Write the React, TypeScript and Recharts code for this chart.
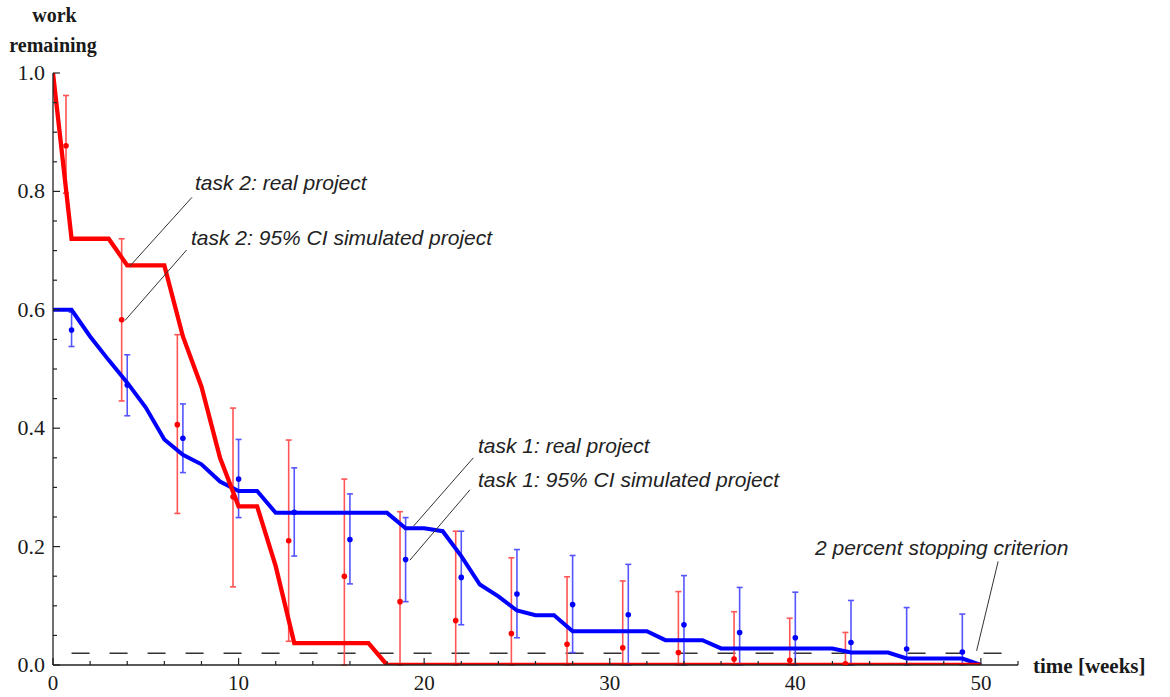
import React from "react";
import {
  ComposedChart,
  Line,
  Scatter,
  ErrorBar,
  XAxis,
  YAxis,
  ReferenceLine,
} from "recharts";

// task 2 (real project) burndown, breakpoints
const redWeeks = [0, 1, 3, 4, 6, 7, 8, 9, 10, 11, 12, 13, 17, 18, 50];
const redWork = [1.0, 0.72, 0.72, 0.675, 0.675, 0.555, 0.47, 0.35, 0.268, 0.268, 0.167, 0.037, 0.037, 0, 0];

// task 1 (real project)
const blueWeeks = [0, 1, 2, 3, 4, 5, 6, 7, 8, 9, 10, 11, 12, 18, 19, 20, 21, 22, 23, 24, 25, 26, 27, 28, 32, 33, 35, 36, 42, 43, 45, 46, 49, 50];
const blueWork = [0.6, 0.6, 0.555, 0.515, 0.477, 0.435, 0.381, 0.355, 0.339, 0.31, 0.294, 0.294, 0.257, 0.257, 0.231, 0.231, 0.226, 0.184, 0.136, 0.116, 0.092, 0.084, 0.084, 0.057, 0.057, 0.042, 0.042, 0.028, 0.028, 0.021, 0.021, 0.011, 0.011, 0];

// task 2 simulated, mean and 95% CI
const redSimWeeks = [0.7, 3.7, 6.7, 9.7, 12.7, 15.7, 18.7, 21.7, 24.7, 27.7, 30.7, 33.7, 36.7, 39.7, 42.7];
const redSimMean = [0.877, 0.583, 0.406, 0.284, 0.21, 0.15, 0.107, 0.075, 0.053, 0.035, 0.029, 0.021, 0.01, 0.008, 0.002];
const redSimLow = [0.797, 0.446, 0.256, 0.132, 0.04, 0, 0, 0, 0, 0, 0, 0, 0, 0, 0];
const redSimHigh = [0.962, 0.72, 0.558, 0.434, 0.38, 0.314, 0.259, 0.226, 0.181, 0.149, 0.142, 0.124, 0.09, 0.079, 0.055];

// task 1 simulated
const blueSimWeeks = [1, 4, 7, 10, 13, 16, 19, 22, 25, 28, 31, 34, 37, 40, 43, 46, 49];
const blueSimMean = [0.566, 0.473, 0.383, 0.314, 0.258, 0.212, 0.178, 0.148, 0.12, 0.102, 0.085, 0.068, 0.055, 0.046, 0.038, 0.027, 0.022];
const blueSimLow = [0.538, 0.421, 0.325, 0.249, 0.184, 0.137, 0.107, 0.068, 0.046, 0.021, 0, 0, 0, 0, 0, 0, 0];
const blueSimHigh = [0.596, 0.524, 0.441, 0.381, 0.333, 0.289, 0.249, 0.226, 0.195, 0.185, 0.17, 0.151, 0.131, 0.123, 0.109, 0.097, 0.086];

const stopCriterion = 0.02;
const stopFrom = 1;
const xMax = 52;

const xTicks = [0, 2, 4, 6, 8, 10, 12, 14, 16, 18, 20, 22, 24, 26, 28, 30, 32, 34, 36, 38, 40, 42, 44, 46, 48, 50, 52];
const yTicks = [0, 0.05, 0.1, 0.15, 0.2, 0.25, 0.3, 0.35, 0.4, 0.45, 0.5, 0.55, 0.6, 0.65, 0.7, 0.75, 0.8, 0.85, 0.9, 0.95, 1.0];

// leader lines for the annotations, [from text, to mark]
const leaders = [
  [{ x: 7.49, y: 0.79 }, { x: 4.15, y: 0.674 }],
  [{ x: 7.2, y: 0.701 }, { x: 3.88, y: 0.582 }],
  [{ x: 22.65, y: 0.35 }, { x: 19.41, y: 0.234 }],
  [{ x: 22.47, y: 0.296 }, { x: 19.23, y: 0.177 }],
  [{ x: 50.93, y: 0.175 }, { x: 49.77, y: 0.024 }],
];

const toLine = (xs: number[], ys: number[]) => xs.map((x, i) => ({ x, y: ys[i] }));
const toSim = (xs: number[], m: number[], lo: number[], hi: number[]) =>
  xs.map((x, i) => ({ x, y: m[i], err: [m[i] - lo[i], hi[i] - m[i]] }));

const redLine = toLine(redWeeks, redWork);
const blueLine = toLine(blueWeeks, blueWork);
const redSim = toSim(redSimWeeks, redSimMean, redSimLow, redSimHigh);
const blueSim = toSim(blueSimWeeks, blueSimMean, blueSimLow, blueSimHigh);

const serif = "'Liberation Serif', 'DejaVu Serif', serif";
const sans = "'Liberation Sans', Arial, sans-serif";

const XTick = (props: any) => {
  const { x, y, payload } = props;
  const major = payload.value % 10 === 0;
  return (
    <g>
      <line x1={x} x2={x} y1={y} y2={y - (major ? 7 : 4)} stroke="#222" strokeWidth={1.2} />
      {major && payload.value <= 50 && (
        <text x={x} y={y + 25} textAnchor="middle" fontFamily={serif} fontSize={21} fill="#1a1a1a">
          {payload.value}
        </text>
      )}
    </g>
  );
};

const YTick = (props: any) => {
  const { x, y, payload } = props;
  const v = payload.value;
  const major = Math.abs(v * 5 - Math.round(v * 5)) < 1e-6;
  return (
    <g>
      <line x1={x} x2={x + (major ? 7 : 4)} y1={y} y2={y} stroke="#222" strokeWidth={1.2} />
      {major && (
        <text x={x - 8} y={y + 7} textAnchor="end" fontFamily={serif} fontSize={22} fill="#1a1a1a">
          {v.toFixed(1)}
        </text>
      )}
    </g>
  );
};

const dot = (color: string) => (p: any) => <circle cx={p.cx} cy={p.cy} r={2.8} fill={color} />;

export default function App() {
  return (
    <div style={{ position: "absolute", left: 0, top: 0, width: 1170, height: 697, background: "#fff" }}>
      <ComposedChart width={1170} height={697} margin={{ top: 73, right: 152, bottom: 2, left: 8 }}>
        <XAxis
          type="number"
          dataKey="x"
          domain={[0, xMax]}
          ticks={xTicks}
          interval={0}
          tickSize={0}
          tickMargin={0}
          tickLine={false}
          tick={<XTick />}
          axisLine={{ stroke: "#222", strokeWidth: 1.3 }}
          height={30}
          allowDataOverflow
        />
        <YAxis
          type="number"
          domain={[0, 1]}
          ticks={yTicks}
          interval={0}
          tickSize={0}
          tickMargin={0}
          tickLine={false}
          tick={<YTick />}
          axisLine={{ stroke: "#222", strokeWidth: 1.3 }}
          width={45}
          allowDataOverflow
        />
        <ReferenceLine
          segment={[{ x: stopFrom, y: stopCriterion }, { x: xMax, y: stopCriterion }]}
          stroke="#333"
          strokeWidth={1.5}
          strokeDasharray="18 20"
        />
        <Scatter data={redSim} dataKey="y" fill="#ff0000" shape={dot("#ff0000")} isAnimationActive={false}>
          <ErrorBar dataKey="err" direction="y" width={3} stroke="#ff5555" strokeWidth={1.6} />
        </Scatter>
        <Scatter data={blueSim} dataKey="y" fill="#0000ff" shape={dot("#0000ff")} isAnimationActive={false}>
          <ErrorBar dataKey="err" direction="y" width={3} stroke="#5555ff" strokeWidth={1.6} />
        </Scatter>
        <Line data={blueLine} dataKey="y" type="linear" stroke="#0000ff" strokeWidth={4} dot={false} isAnimationActive={false} />
        <Line data={redLine} dataKey="y" type="linear" stroke="#ff0000" strokeWidth={4.3} dot={false} isAnimationActive={false} />
        {leaders.map((s, i) => (
          <ReferenceLine key={i} segment={s} stroke="#333" strokeWidth={1} />
        ))}
      </ComposedChart>
      <svg width={1170} height={697} style={{ position: "absolute", left: 0, top: 0, pointerEvents: "none" }}>
        <g fontFamily={serif} fontWeight="bold" fill="#1a1a1a">
          <text x={54.5} y={21.5} fontSize={20} textAnchor="middle">work</text>
          <text x={53} y={52} fontSize={20} textAnchor="middle">remaining</text>
          <text x={1033} y={673} fontSize={21}>time [weeks]</text>
        </g>
        <g fontFamily={sans} fontStyle="italic" fontSize={21} fill="#222">
          <text x={195} y={189.5}>task 2: real project</text>
          <text x={191} y={245}>task 2: 95% CI simulated project</text>
          <text x={478} y={453}>task 1: real project</text>
          <text x={478} y={487}>task 1: 95% CI simulated project</text>
          <text x={815} y={555}>2 percent stopping criterion</text>
        </g>
      </svg>
    </div>
  );
}
